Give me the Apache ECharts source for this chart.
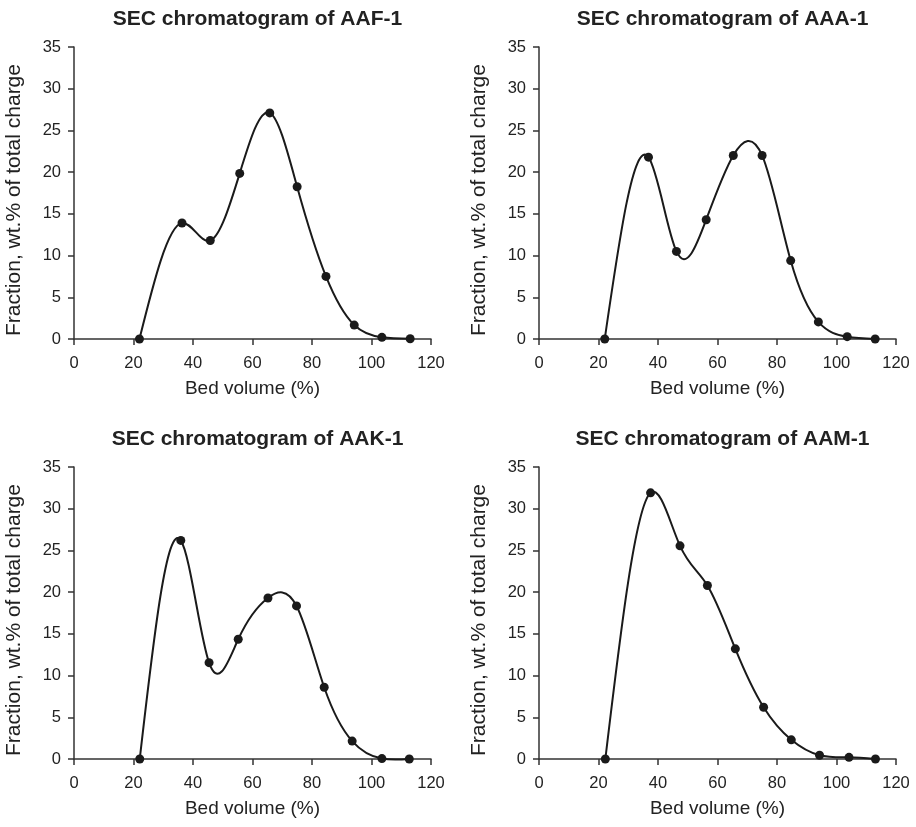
<!DOCTYPE html>
<html>
<head>
<meta charset="utf-8">
<script src="https://cdn.jsdelivr.net/npm/echarts@6/dist/echarts.min.js"></script>
<style>
html,body{margin:0;padding:0;background:#fff;}
#c{width:916px;height:827px;}
</style>
</head>
<body>
<div id="c"></div>
<script>
var titles = ['SEC chromatogram of AAF-1','SEC chromatogram of AAA-1','SEC chromatogram of AAK-1','SEC chromatogram of AAM-1'];
var xName = 'Bed volume (%)';
var yName = 'Fraction, wt.% of total charge';

var bvAAF = [22.0, 36.3, 45.8, 55.7, 65.8, 75.0, 84.7, 94.2, 103.5, 113.0];
var frAAF = [0, 13.9, 11.8, 19.85, 27.1, 18.25, 7.5, 1.67, 0.2, 0.03];

var bvAAA = [22.1, 36.8, 46.2, 56.2, 65.3, 75.0, 84.6, 93.9, 103.6, 113.0];
var frAAA = [0, 21.8, 10.5, 14.3, 22.0, 22.0, 9.4, 2.05, 0.28, 0];

var bvAAK = [22.1, 35.9, 45.4, 55.2, 65.2, 74.8, 84.1, 93.5, 103.5, 112.7];
var frAAK = [0, 26.2, 11.55, 14.35, 19.3, 18.35, 8.6, 2.15, 0.05, 0];

var bvAAM = [22.3, 37.5, 47.4, 56.6, 66.0, 75.5, 84.8, 94.3, 104.2, 113.1];
var frAAM = [0, 31.9, 25.55, 20.8, 13.2, 6.2, 2.3, 0.45, 0.2, 0];

var xTicks = [0, 20, 40, 60, 80, 100, 120];
var yTicks = [0, 5, 10, 15, 20, 25, 30, 35];

var sets = [[bvAAF, frAAF], [bvAAA, frAAA], [bvAAK, frAAK], [bvAAM, frAAM]];

var lefts = [74, 539];
var tops = [47, 467];
var gw = 357, gh = 292;
var font = 'Liberation Sans, Arial, sans-serif';
var axisColor = '#333';
var inkColor = '#1a1a1a';

// Natural cubic spline y(x) through the data, drawn as Bezier segments via the axes' coord().
function makeRenderer(data) {
  return function (params, api) {
    if (params.dataIndex !== 0) return null;
    var n = data.length;
    var x = data.map(function (d) { return d[0]; });
    var y = data.map(function (d) { return d[1]; });
    var h = [], i;
    for (i = 0; i < n - 1; i++) h.push(x[i + 1] - x[i]);
    // tridiagonal system for second derivatives M (natural ends: M0 = Mn-1 = 0)
    var M = new Array(n).fill(0);
    var m = n - 2;
    var a = [], b = [], c = [], r = [];
    for (i = 1; i <= m; i++) {
      a.push(h[i - 1]); b.push(2 * (h[i - 1] + h[i])); c.push(h[i]);
      r.push(6 * ((y[i + 1] - y[i]) / h[i] - (y[i] - y[i - 1]) / h[i - 1]));
    }
    for (i = 1; i < m; i++) {
      var w = a[i] / b[i - 1];
      b[i] -= w * c[i - 1];
      r[i] -= w * r[i - 1];
    }
    var sol = new Array(m);
    sol[m - 1] = r[m - 1] / b[m - 1];
    for (i = m - 2; i >= 0; i--) sol[i] = (r[i] - c[i] * sol[i + 1]) / b[i];
    for (i = 1; i <= m; i++) M[i] = sol[i - 1];

    var p0 = api.coord([x[0], y[0]]);
    var path = 'M' + p0[0] + ' ' + p0[1];
    for (i = 0; i < n - 1; i++) {
      var s = (y[i + 1] - y[i]) / h[i];
      var d0 = s - h[i] * (2 * M[i] + M[i + 1]) / 6;
      var d1 = s + h[i] * (M[i] + 2 * M[i + 1]) / 6;
      var c1 = api.coord([x[i] + h[i] / 3, y[i] + h[i] * d0 / 3]);
      var c2 = api.coord([x[i + 1] - h[i] / 3, y[i + 1] - h[i] * d1 / 3]);
      var e = api.coord([x[i + 1], y[i + 1]]);
      path += ' C' + c1[0] + ' ' + c1[1] + ' ' + c2[0] + ' ' + c2[1] + ' ' + e[0] + ' ' + e[1];
    }
    return {
      type: 'path',
      shape: {pathData: path},
      style: {fill: null, stroke: inkColor, lineWidth: 2}
    };
  };
}

var grids = [], xAxes = [], yAxes = [], series = [], titleOpts = [];
for (var i = 0; i < 4; i++) {
  var L = lefts[i % 2], T = tops[Math.floor(i / 2)];
  grids.push({left: L, top: T, width: gw, height: gh, containLabel: false});
  titleOpts.push({
    text: titles[i], left: L + gw / 2, top: T - 43, textAlign: 'center',
    textStyle: {fontFamily: font, fontSize: 21, fontWeight: 'bold', color: '#222'}
  });
  xAxes.push({
    type: 'value', gridIndex: i, min: xTicks[0], max: xTicks[xTicks.length - 1], interval: xTicks[1] - xTicks[0],
    name: xName, nameLocation: 'middle', nameGap: 40,
    nameTextStyle: {fontFamily: font, fontSize: 19, color: '#222'},
    axisLine: {show: true, lineStyle: {color: axisColor, width: 1.5}},
    axisTick: {show: true, inside: false, length: 6, lineStyle: {color: axisColor, width: 1.5}},
    axisLabel: {fontFamily: font, fontSize: 16.5, color: '#222', margin: 16},
    splitLine: {show: false}
  });
  yAxes.push({
    type: 'value', gridIndex: i, min: yTicks[0], max: yTicks[yTicks.length - 1], interval: yTicks[1] - yTicks[0],
    name: yName, nameLocation: 'middle', nameGap: 49, nameRotate: 90,
    nameTextStyle: {fontFamily: font, fontSize: 21, color: '#222', padding: [0, 14, 0, 0]},
    axisLine: {show: true, lineStyle: {color: axisColor, width: 1.5}},
    axisTick: {show: true, inside: false, length: 6, lineStyle: {color: axisColor, width: 1.5}},
    axisLabel: {fontFamily: font, fontSize: 16.5, color: '#222', margin: 13},
    splitLine: {show: false}
  });
  var d = sets[i][0].map(function (x, k) { return [x, sets[i][1][k]]; });
  series.push({
    type: 'custom', coordinateSystem: 'cartesian2d', xAxisIndex: i, yAxisIndex: i,
    data: d, encode: {x: 0, y: 1}, renderItem: makeRenderer(d), silent: true, animation: false, z: 2
  });
  series.push({
    type: 'scatter', xAxisIndex: i, yAxisIndex: i, data: d,
    symbol: 'circle', symbolSize: 9,
    itemStyle: {color: inkColor, opacity: 1},
    animation: false, z: 3
  });
}

var chart = echarts.init(document.getElementById('c'), null, {renderer: 'canvas'});
chart.setOption({
  backgroundColor: '#fff',
  animation: false,
  title: titleOpts,
  grid: grids,
  xAxis: xAxes,
  yAxis: yAxes,
  series: series
});
</script>
</body>
</html>
